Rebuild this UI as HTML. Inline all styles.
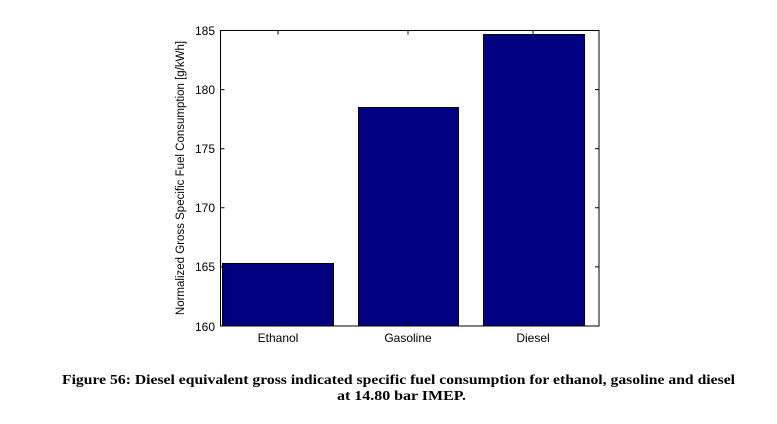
<!DOCTYPE html>
<html><head><style>body{margin:0;background:#fff}</style></head><body>
<svg width="777" height="419" xmlns="http://www.w3.org/2000/svg" font-family="Liberation Sans, sans-serif">
<rect width="777" height="419" fill="#fff"/>
<g fill="#000080" stroke="#000" stroke-width="1">
<rect x="222.5" y="263.5" width="111" height="62.5"/>
<rect x="358.5" y="107.5" width="100" height="218.5"/>
<rect x="483.5" y="34.5" width="101" height="291.5"/>
</g>
<rect x="220.5" y="30.5" width="378.5" height="295.5" fill="none" stroke="#000"/>
<g stroke="#000">
<path d="M220.5 30.5h4M220.5 89.6h4M220.5 148.7h4M220.5 207.8h4M220.5 266.9h4M599 30.5h-4M599 89.6h-4M599 148.7h-4M599 207.8h-4M599 266.9h-4M278 30.5v4M408 30.5v4M533 30.5v4M278 326v-4M408 326v-4M533 326v-4"/>
</g>
<g font-size="12" text-anchor="end">
<text x="215" y="35">185</text><text x="215" y="94">180</text><text x="215" y="153">175</text><text x="215" y="212">170</text><text x="215" y="271">165</text><text x="215" y="331">160</text>
</g>
<g font-size="12" text-anchor="middle">
<text x="278" y="342">Ethanol</text><text x="408" y="342">Gasoline</text><text x="533" y="342">Diesel</text>
<text transform="translate(184,178) rotate(-90)" font-size="11.5">Normalized Gross Specific Fuel Consumption [g/kWh]</text>
</g>
<g font-family="Liberation Serif, serif" font-weight="bold" font-size="14">
<text x="62" y="384" textLength="673" lengthAdjust="spacingAndGlyphs">Figure 56: Diesel equivalent gross indicated specific fuel consumption for ethanol, gasoline and diesel</text>
<text x="337" y="400" textLength="129" lengthAdjust="spacingAndGlyphs">at 14.80 bar IMEP.</text>
</g>
</svg>
</body></html>
